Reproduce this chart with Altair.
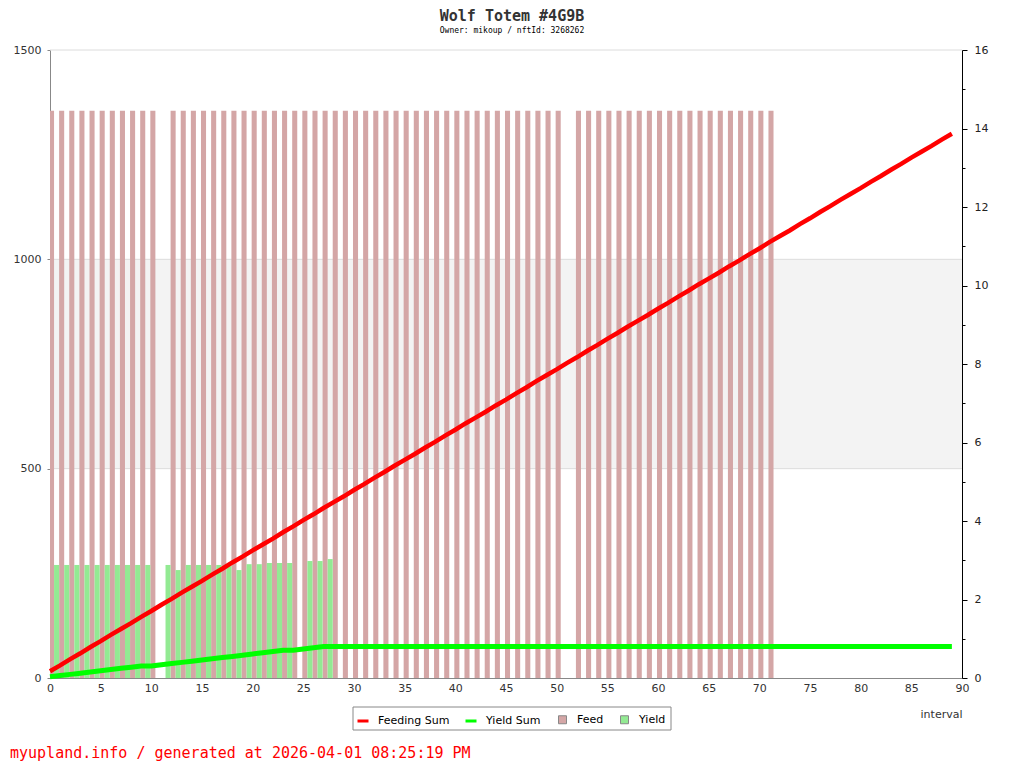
import altair as alt
import pandas as pd

# ---------------- data ----------------
title_text = "Wolf Totem #4G9B"
subtitle_text = "Owner: mikoup / nftId: 3268262"
footer_text = "myupland.info / generated at 2026-04-01 08:25:19 PM"

intervals = list(range(90))

feeding_sum = [16, 30, 45, 59, 74, 88, 103, 117, 131, 146,
               160, 175, 189, 204, 218, 232, 247, 261, 276, 290,
               305, 319, 333, 348, 362, 377, 391, 406, 420, 434,
               449, 463, 478, 492, 507, 521, 535, 550, 564, 579,
               593, 608, 622, 636, 651, 665, 680, 694, 709, 723,
               737, 752, 766, 781, 795, 810, 824, 839, 853, 867,
               882, 896, 911, 925, 940, 954, 968, 983, 997, 1012,
               1026, 1041, 1055, 1069, 1084, 1098, 1113, 1127, 1142, 1156,
               1170, 1185, 1199, 1214, 1228, 1243, 1257, 1271, 1286, 1300]

yield_sum = [2.88, 5.76, 8.64, 11.52, 14.40, 17.28, 20.16, 23.04, 25.92, 28.80,
             28.80, 31.68, 34.43, 37.31, 40.19, 43.07, 45.95, 48.80, 51.55, 54.45,
             57.35, 60.28, 63.21, 66.14, 66.14, 69.12, 72.10, 75.13, 75.13, 75.13,
             75.13, 75.13, 75.13, 75.13, 75.13, 75.13, 75.13, 75.13, 75.13, 75.13,
             75.13, 75.13, 75.13, 75.13, 75.13, 75.13, 75.13, 75.13, 75.13, 75.13,
             75.13, 75.13, 75.13, 75.13, 75.13, 75.13, 75.13, 75.13, 75.13, 75.13,
             75.13, 75.13, 75.13, 75.13, 75.13, 75.13, 75.13, 75.13, 75.13, 75.13,
             75.13, 75.13, 75.13, 75.13, 75.13, 75.13, 75.13, 75.13, 75.13, 75.13,
             75.13, 75.13, 75.13, 75.13, 75.13, 75.13, 75.13, 75.13, 75.13, 75.13]

feed_intervals = [0, 1, 2, 3, 4, 5, 6, 7, 8, 9, 10,
                  12, 13, 14, 15, 16, 17, 18, 19, 20, 21, 22, 23, 24, 25,
                  26, 27, 28, 29, 30, 31, 32, 33, 34, 35, 36, 37, 38, 39,
                  40, 41, 42, 43, 44, 45, 46, 47, 48, 49, 50,
                  52, 53, 54, 55, 56, 57, 58, 59, 60, 61, 62, 63, 64, 65,
                  66, 67, 68, 69, 70, 71]
feed_values = [14.45, 14.45, 14.45, 14.45, 14.45, 14.45, 14.45, 14.45, 14.45, 14.45, 14.45,
               14.45, 14.45, 14.45, 14.45, 14.45, 14.45, 14.45, 14.45, 14.45, 14.45, 14.45, 14.45, 14.45, 14.45,
               14.45, 14.45, 14.45, 14.45, 14.45, 14.45, 14.45, 14.45, 14.45, 14.45, 14.45, 14.45, 14.45, 14.45,
               14.45, 14.45, 14.45, 14.45, 14.45, 14.45, 14.45, 14.45, 14.45, 14.45, 14.45,
               14.45, 14.45, 14.45, 14.45, 14.45, 14.45, 14.45, 14.45, 14.45, 14.45, 14.45, 14.45, 14.45, 14.45,
               14.45, 14.45, 14.45, 14.45, 14.45, 14.45]

yield_intervals = [0, 1, 2, 3, 4, 5, 6, 7, 8, 9,
                   11, 12, 13, 14, 15, 16, 17, 18, 19, 20, 21, 22, 23,
                   25, 26, 27]
yield_values = [2.88, 2.88, 2.88, 2.88, 2.88, 2.88, 2.88, 2.88, 2.88, 2.88,
                2.88, 2.75, 2.88, 2.88, 2.88, 2.88, 2.85, 2.75, 2.90, 2.90, 2.93, 2.93, 2.93,
                2.98, 2.98, 3.03]

band_low = [500]
band_high = [1000]
grid_levels = [500, 1000, 1500]
x_ticks = [0, 5, 10, 15, 20, 25, 30, 35, 40, 45, 50, 55, 60, 65, 70, 75, 80, 85, 90]
left_ticks = [0, 500, 1000, 1500]
right_ticks = [0, 1, 2, 3, 4, 5, 6, 7, 8, 9, 10, 11, 12, 13, 14, 15, 16]

# ---------------- tables ----------------
lines_df = pd.DataFrame({
    "interval": intervals + intervals,
    "value": feeding_sum + yield_sum,
    "series": ["Feeding Sum"] * len(feeding_sum) + ["Yield Sum"] * len(yield_sum),
})
bars_df = pd.DataFrame({
    "interval": feed_intervals + yield_intervals,
    "value": feed_values + yield_values,
    "series": ["Feed"] * len(feed_intervals) + ["Yield"] * len(yield_intervals),
})
band_df = pd.DataFrame({"lo": band_low, "hi": band_high})
grid_df = pd.DataFrame({"g": grid_levels})
footer_df = pd.DataFrame({"t": [footer_text]})

FONT = "DejaVu Sans"
MONO = "DejaVu Sans Mono"

X_SCALE = alt.Scale(domain=[0, 90], nice=False, zero=False)
X_AXIS = alt.Axis(values=x_ticks, title="interval", titleAnchor="end", titleAlign="right",
                  titleX=912, titleY=36, titleBaseline="middle", titleFont=FONT,
                  titleFontSize=11, titleFontWeight="normal", titleColor="#333333",
                  labelFont=FONT, labelFontSize=11, labelColor="#333333", labelPadding=4,
                  ticks=False, domainColor="#888888", grid=False, labelFlush=False)
LEFT_SCALE = alt.Scale(domain=[0, 1500], nice=False, zero=True)

# ---------------- background band + grid ----------------
band = alt.Chart(band_df).mark_rect(color="#f3f3f3").encode(
    x=alt.value(0), x2=alt.value("width"),
    y=alt.Y("lo:Q", scale=LEFT_SCALE, axis=None), y2="hi:Q")
grid = alt.Chart(grid_df).mark_rule(color="#dcdcdc", strokeWidth=1).encode(
    y=alt.Y("g:Q", scale=LEFT_SCALE, axis=None))
back = alt.layer(band, grid)

# ---------------- bars (right axis) ----------------
bars = alt.Chart(bars_df).transform_calculate(
    x0="datum.series === 'Feed' ? datum.interval - 0.1 : datum.interval + 0.4",
    x1="datum.series === 'Feed' ? datum.interval + 0.4 : datum.interval + 0.9",
).mark_rect(clip=True, opacity=1).encode(
    x=alt.X("x0:Q", scale=X_SCALE, axis=X_AXIS),
    x2="x1:Q",
    y=alt.Y("value:Q", scale=alt.Scale(domain=[0, 16], nice=False, zero=True),
            axis=alt.Axis(orient="right", values=right_ticks, title=None,
                          labelExpr="datum.value % 2 === 0 ? datum.label : ''",
                          tickSize={"condition": {"test": "datum.value % 2 === 0", "value": 5}, "value": 3},
                          tickColor="#000000", domainColor="#000000", labelPadding=7,
                          labelFont=FONT, labelFontSize=11, labelColor="#222222", grid=False)),
    y2=alt.datum(0),
    fill=alt.Fill("series:N",
                  scale=alt.Scale(domain=["Feed", "Yield"], range=["#d4a6a6", "#93ea93"]),
                  legend=alt.Legend(title=None, orient="none", legendX=507, legendY=664,
                                    direction="horizontal", symbolType="square", symbolSize=64,
                                    symbolStrokeColor="#888888", symbolStrokeWidth=1,
                                    labelFont=FONT, labelFontSize=11, labelColor="#000000",
                                    labelOffset=9, columnPadding=14, padding=0)),
)

# ---------------- lines (left axis) ----------------
LEFT_AXIS = alt.Axis(values=left_ticks, format="d", title=None, grid=False, domainColor="#888888",
                     tickColor="#888888", tickSize=3, labelPadding=6, labelFont=FONT,
                     labelFontSize=11, labelColor="#333333")
line_color = alt.Color("series:N",
                       scale=alt.Scale(domain=["Feeding Sum", "Yield Sum"], range=["#ff0000", "#00ff00"]),
                       legend=alt.Legend(title=None, orient="none", legendX=306, legendY=664,
                                         direction="horizontal", symbolType="stroke", symbolSize=121,
                                         symbolStrokeWidth=3, labelFont=FONT, labelFontSize=11,
                                         labelColor="#000000", labelOffset=8, columnPadding=9,
                                         padding=0))
line_base = alt.Chart(lines_df).encode(
    x=alt.X("interval:Q", scale=X_SCALE, axis=X_AXIS),
    y=alt.Y("value:Q", scale=LEFT_SCALE, axis=LEFT_AXIS),
    color=line_color,
)
green_line = line_base.transform_filter("datum.series === 'Yield Sum'").mark_line(strokeWidth=5)
red_line = line_base.transform_filter("datum.series === 'Feeding Sum'").mark_line(strokeWidth=4.5)

legend_box = alt.Chart(footer_df).mark_rect(fillOpacity=0, stroke="#888888", strokeWidth=1).encode(
    x=alt.value(303), x2=alt.value(621), y=alt.value(657), y2=alt.value(680))
footer = alt.Chart(footer_df).mark_text(align="left", baseline="middle", font=MONO, fontSize=15,
                                        color="#ff0000").encode(
    x=alt.value(-40), y=alt.value(703), text="t:N")

front = alt.layer(green_line, red_line, legend_box, footer)

chart = alt.layer(back, bars, front).resolve_scale(y="independent").properties(
    width=912, height=628,
    padding={"left": 42, "top": 42, "right": 50, "bottom": 88},
    autosize=alt.AutoSizeParams(type="none"),
    title=alt.TitleParams(text=title_text, subtitle=subtitle_text, font=MONO, fontSize=15,
                          fontWeight="bold", color="#333333", subtitleFont=MONO,
                          subtitleFontSize=8, subtitleColor="#000000", anchor="middle",
                          offset=9, subtitlePadding=3, dx=6),
).configure_view(stroke="transparent")

chart.save("out.html", embed_options={"renderer": "svg", "actions": False})
